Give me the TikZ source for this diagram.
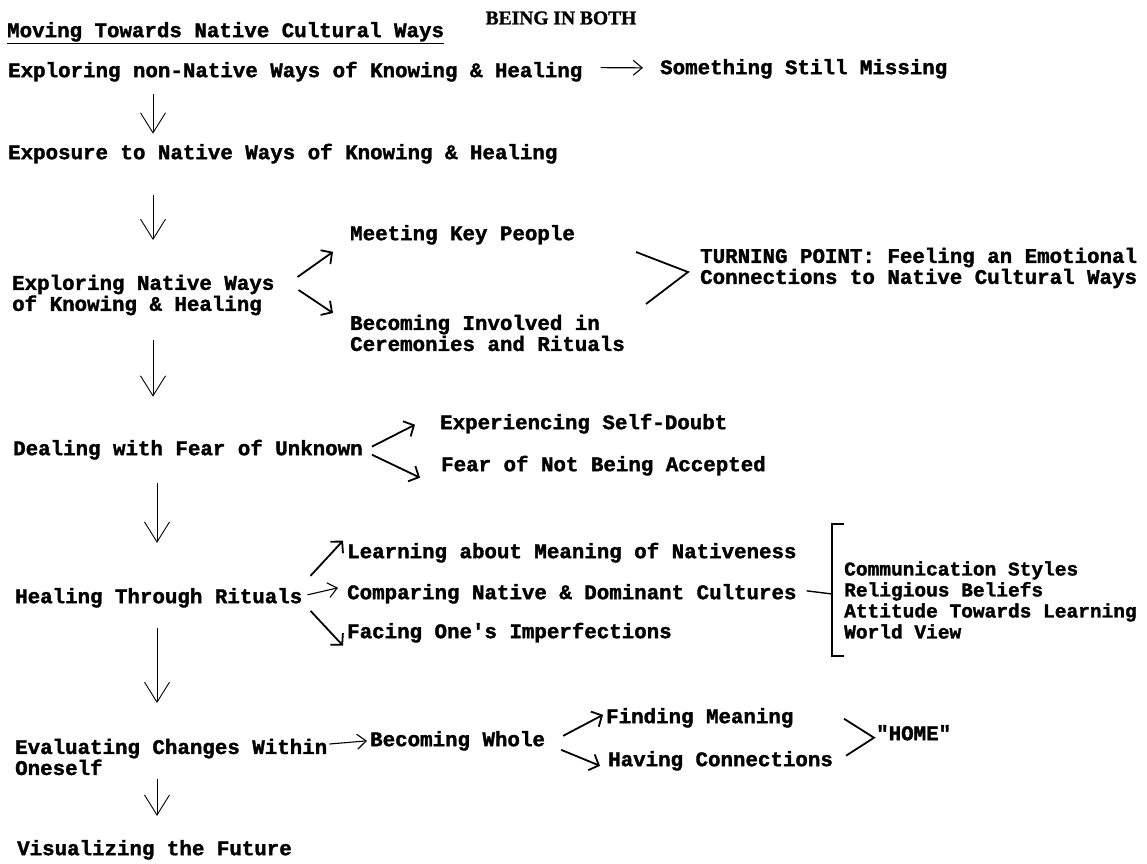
\documentclass[tikz,border=0pt]{standalone}
\usepackage{fontspec}
\newfontfamily\typew[BoldFeatures={FakeBold=1.6}]{Liberation Mono}
\newfontfamily\serifbf[BoldFeatures={FakeBold=1.2}]{Liberation Serif}
\usetikzlibrary{arrows.meta,calc}
\newcommand{\twtext}{\typew\bfseries\fontsize{20.8}{21}\selectfont}
\newcommand{\twsmall}{\typew\bfseries\fontsize{19.5}{21}\selectfont}

\begin{document}
\begin{tikzpicture}[x=1pt,y=-1pt,
    txt/.style={font=\twtext,inner sep=0pt,anchor=mid west},
    blk/.style={font=\twtext,inner sep=0pt,anchor=west,align=left},
    down/.style={-{Straight Barb[length=20pt,width=25pt]},line width=0.9pt},
    branch/.style={-{Straight Barb[length=8pt,width=17pt]},line width=1.8pt},
    flat/.style={-{Straight Barb[length=9pt,width=15pt]},line width=1.1pt},
    vee/.style={line width=1.8pt}]
    \fill[white] (0,0) rectangle (1147,863);
    \useasboundingbox (0,0) rectangle (1147,863);

    \node[font=\serifbf\bfseries\fontsize{19.5}{20}\selectfont,inner sep=0pt] (title) at (561,18) {BEING IN BOTH};
    \node[txt] (mvt) at (7,35) {Moving Towards Native Cultural Ways};
    \draw[line width=1.4pt] ($(mvt.south west)+(0,2)$) -- ($(mvt.south east)+(0,2)$);

    \node[txt] (enh) at (8,75) {Exploring non-Native Ways of Knowing \& Healing};
    \node[txt] (ssm) at (660,72) {Something Still Missing};
    \node[txt] (exp) at (8,157) {Exposure to Native Ways of Knowing \& Healing};
    \node[blk] (ekh) at (12,295) {Exploring Native Ways\\of Knowing \& Healing};
    \node[txt] (mkp) at (350,238) {Meeting Key People};
    \node[blk] (bic) at (350,333) {Becoming Involved in\\Ceremonies and Rituals};
    \node[blk] (tp) at (700,268) {TURNING POINT: Feeling an Emotional\\Connections to Native Cultural Ways};

    \node[txt] (dfu) at (13,453) {Dealing with Fear of Unknown};
    \node[txt] (esd) at (440,427) {Experiencing Self-Doubt};
    \node[txt] (fna) at (441,469) {Fear of Not Being Accepted};

    \node[txt] (htr) at (15,601) {Healing Through Rituals};
    \node[txt] (lmn) at (347,556) {Learning about Meaning of Nativeness};
    \node[txt] (cnd) at (347,597) {Comparing Native \& Dominant Cultures};
    \node[txt] (foi) at (347,636) {Facing One's Imperfections};
    \node[blk,font=\twsmall] (lst) at (844,600) {Communication Styles\\Religious Beliefs\\Attitude Towards Learning\\World View};

    \node[blk] (ecw) at (15,757) {Evaluating Changes Within\\Oneself};
    \node[txt] (bw) at (370,744) {Becoming Whole};
    \node[txt] (fm) at (606,721) {Finding Meaning};
    \node[txt] (hc) at (608,764) {Having Connections};
    \node[txt] (home) at (876,738) {"HOME"};
    \node[txt] (vf) at (17,853) {Visualizing the Future};

    % main column
    \foreach \a/\ax/\ay/\b/\bx/\by in {
        enh/145/22/exp/145/-20,
        exp/145/41/ekh/141/-55,
        ekh/141/45/dfu/140/-53,
        dfu/144/33/htr/142/-55,
        htr/142/30/ecw/142/-54,
        ecw/142/22/vf/140/-34}{
      \draw[down] ($(\a.west)+(\ax,\ay)$) -- ($(\b.west)+(\bx,\by)$);
    }

    % side branches
    \draw[flat] ($(enh.east)+(18,-4)$) -- ($(ssm.west)+(-17,-1)$);
    \draw[branch] ($(ekh.east)+(23,-18)$) -- ($(mkp.west)+(-17,17)$);
    \draw[branch] ($(ekh.east)+(24,-5)$) -- ($(bic.west)+(-17,-20)$);
    \draw[branch] ($(dfu.east)+(9,-3)$) -- ($(esd.west)+(-25,1)$);
    \draw[branch] ($(dfu.east)+(9,5)$) -- ($(fna.west)+(-21,12)$);
    \draw[branch] ($(htr.east)+(8,-22)$) -- ($(lmn.west)+(-4,-12)$);
    \draw[flat] ($(htr.east)+(5,-3)$) -- ($(cnd.west)+(-9,-6)$);
    \draw[branch] ($(htr.east)+(8,13)$) -- ($(foi.west)+(-4,13)$);
    \draw[flat] ($(ecw.east)+(2,-13)$) -- ($(bw.west)+(-3,0)$);
    \draw[branch] ($(bw.east)+(18,-5)$) -- ($(fm.west)+(-3,-3)$);
    \draw[branch] ($(bw.east)+(16,9)$) -- ($(hc.west)+(-8,5)$);

    % joins
    \draw[vee] ($(tp.west)+(-64,-16)$) -- ($(tp.west)+(-12,4)$) -- ($(tp.west)+(-54,36)$);
    \draw[vee] ($(home.west)+(-32,-14)$) -- ($(home.west)+(-2,5)$) -- ($(home.west)+(-30,23)$);
    \draw[line width=1.4pt] ($(cnd.east)+(10,-3)$) -- ($(lst.west)+(-12,-6)$);
    \draw[line width=1.4pt] ($(lst.west)+(0,-76)$) -- ++(-12,0) -- ++(0,132) -- ++(12,0);
\end{tikzpicture}
\end{document}
